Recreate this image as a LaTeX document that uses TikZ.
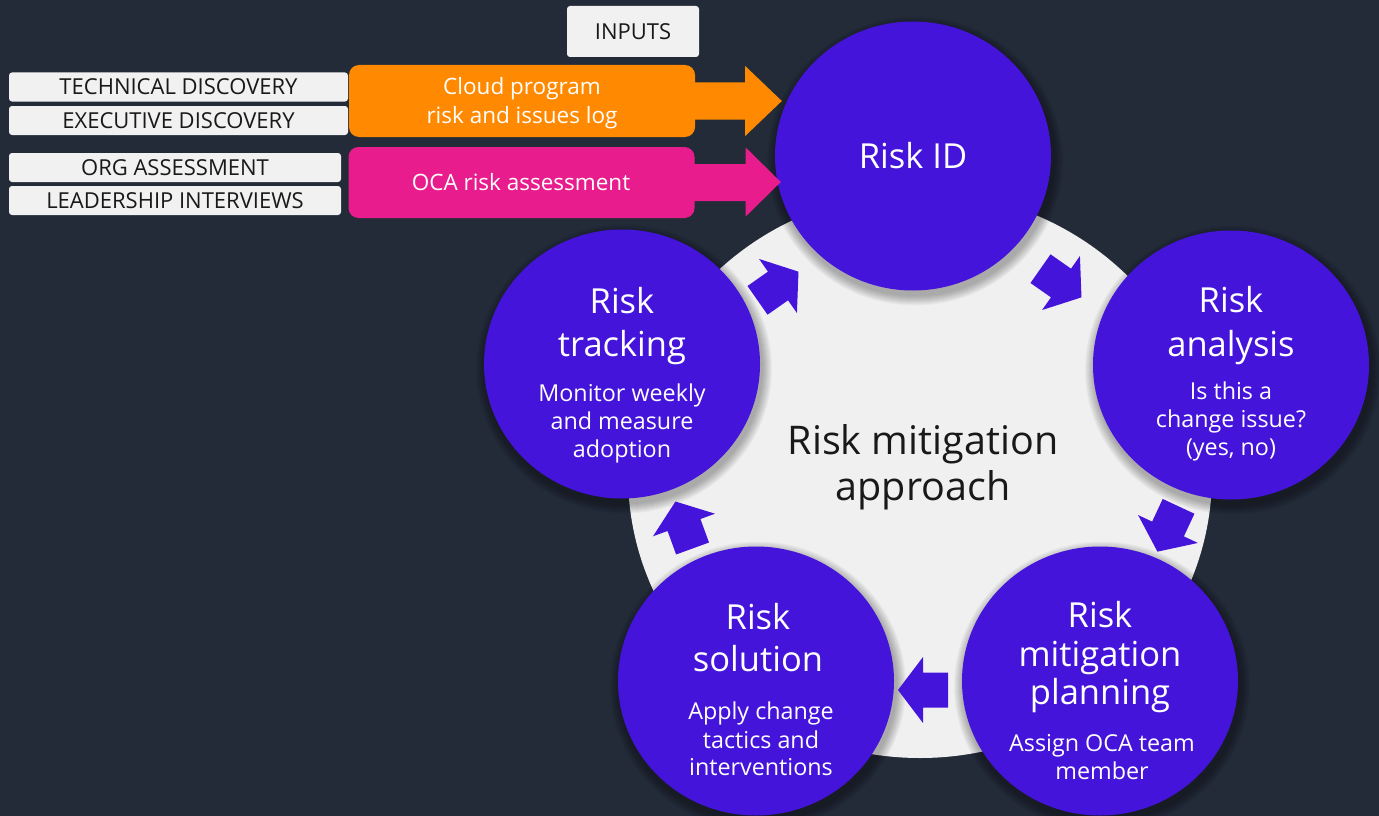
\documentclass[tikz,border=0pt]{standalone}
\usepackage{fontspec}
\setmainfont{Open Sans}
\usetikzlibrary{shapes.geometric,calc}
\definecolor{bgc}{RGB}{35,43,56}
\definecolor{ringc}{RGB}{240,240,240}
\definecolor{purp}{RGB}{68,20,218}
\definecolor{orng}{RGB}{255,137,0}
\definecolor{pinkc}{RGB}{232,28,140}
\definecolor{lblc}{RGB}{241,241,241}
\definecolor{ink}{RGB}{25,25,25}
\newcommand\stageglow[1]{%
  \foreach \k in {1,...,10}{%
    \fill[black,opacity=0.03] ($(#1)+(2,5)$) ellipse [x radius={138pt+\k pt}, y radius={134.5pt+\k pt}];
  }%
}
\newcommand\cyclearrow[2]{%
  \fill[purp, shift={(#1)}, rotate=#2] (-25,-17.5) -- (0,-17.5) -- (0,-33) -- (25,0) -- (0,33) -- (0,17.5) -- (-25,17.5) -- cycle;%
}
\begin{document}
\begin{tikzpicture}[x=1pt,y=-1pt,
  stage/.style={ellipse, fill=purp, minimum width=276pt, minimum height=269pt, inner sep=0pt},
  lblbox/.style={rectangle, fill=lblc, rounded corners=3pt, minimum height=29pt, inner sep=0pt, text=ink, font=\fontsize{22}{26}\selectfont},
  colbox/.style={rectangle, rounded corners=10pt, minimum height=71pt, minimum width=346pt, inner sep=0pt},
  boxtxt/.style={anchor=base, text=white, inner sep=0pt, font=\fontsize{22.5}{27}\selectfont},
  ttl/.style={anchor=base, text=white, inner sep=0pt, font=\fontsize{34.5}{40}\selectfont},
  subtxt/.style={anchor=base, text=white, inner sep=0pt, font=\fontsize{23.3}{28}\selectfont},
  midtxt/.style={anchor=base, text=ink, inner sep=0pt, font=\fontsize{39.5}{46}\selectfont}
]
\useasboundingbox (0,0) rectangle (1379,816);
\fill[bgc] (0,0) rectangle (1379,816);

% input labels
\node[lblbox, minimum width=132pt, minimum height=51pt] (inputs) at (633,31.5) {INPUTS};
\node[lblbox, minimum width=339pt] (tech) at (178.5,87) {TECHNICAL DISCOVERY};
\node[lblbox, minimum width=339pt] (exec) at (178.5,120.5) {EXECUTIVE DISCOVERY};
\node[lblbox, minimum width=332pt] (org) at (175,167.5) {ORG ASSESSMENT};
\node[lblbox, minimum width=332pt] (lead) at (175,200.5) {LEADERSHIP INTERVIEWS};

% coloured input boxes
\node[colbox, fill=orng, minimum height=72pt] (obox) at (522,101) {};
\node[colbox, fill=pinkc] (pbox) at (521.5,182.5) {};
\node[boxtxt] (ot1) at (522,95) {Cloud program};
\node[boxtxt] (ot2) at (522,123) {risk and issues log};
\node[boxtxt] (pt1) at (521,190) {OCA risk assessment};

% ring
\node[ellipse, fill=ringc, minimum width=584pt, minimum height=566pt, inner sep=0pt] (ring) at (920,475) {};

% stage centres
\coordinate (cid) at (913,156);
\coordinate (cana) at (1231,365);
\coordinate (cplan) at (1100,681);
\coordinate (csol) at (756,681);
\coordinate (ctrk) at (622,364);

\stageglow{cid}
\stageglow{cana}
\stageglow{cplan}
\stageglow{csol}
\stageglow{ctrk}

\node[stage] (id) at (cid) {};
\node[stage] (ana) at (cana) {};
\node[stage] (plan) at (cplan) {};
\node[stage] (sol) at (csol) {};
\node[stage] (trk) at (ctrk) {};

% input arrows
\fill[orng] ($(obox.east)+(-2,-18.5)$) -- ($(obox.east)+(50,-18.5)$) -- ($(obox.east)+(50,-35)$) -- ($(id.west)+(7,-55)$) -- ($(obox.east)+(50,35)$) -- ($(obox.east)+(50,18.5)$) -- ($(obox.east)+(-2,18.5)$) -- cycle;
\fill[pinkc] ($(pbox.east)+(-2,-18.5)$) -- ($(pbox.east)+(51,-18.5)$) -- ($(pbox.east)+(51,-35)$) -- ($(id.west)+(6,26)$) -- ($(pbox.east)+(51,34)$) -- ($(pbox.east)+(51,18.5)$) -- ($(pbox.east)+(-2,18.5)$) -- cycle;

% cycle arrows
\cyclearrow{778,286}{35}
\cyclearrow{1061,283}{-35}
\cyclearrow{1168,529}{-115}
\cyclearrow{923,690}{180}
\cyclearrow{684,525}{110}

% texts
\node[ttl] (idt) at (913,168) {Risk ID};

\node[ttl] (anat1) at (1231,312) {Risk};
\node[ttl] (anat2) at (1231,356) {analysis};
\node[subtxt] (anas1) at (1231,399) {Is this a};
\node[subtxt] (anas2) at (1231,427) {change issue?};
\node[subtxt] (anas3) at (1231,455) {(yes, no)};

\node[ttl] (plant1) at (1100,627) {Risk};
\node[ttl] (plant2) at (1100,666) {mitigation};
\node[ttl] (plant3) at (1100,704) {planning};
\node[subtxt] (plans1) at (1102,751) {Assign OCA team};
\node[subtxt] (plans2) at (1102,779) {member};

\node[ttl] (solt1) at (758,629) {Risk};
\node[ttl] (solt2) at (758,671) {solution};
\node[subtxt] (sols1) at (761,719) {Apply change};
\node[subtxt] (sols2) at (761,748) {tactics and};
\node[subtxt] (sols3) at (761,775) {interventions};

\node[ttl] (trkt1) at (622,313) {Risk};
\node[ttl] (trkt2) at (622,356) {tracking};
\node[subtxt] (trks1) at (622,401) {Monitor weekly};
\node[subtxt] (trks2) at (622,429) {and measure};
\node[subtxt] (trks3) at (622,457) {adoption};

\node[midtxt] (mid1) at (923,454) {Risk mitigation};
\node[midtxt] (mid2) at (923,500) {approach};
\end{tikzpicture}
\end{document}
